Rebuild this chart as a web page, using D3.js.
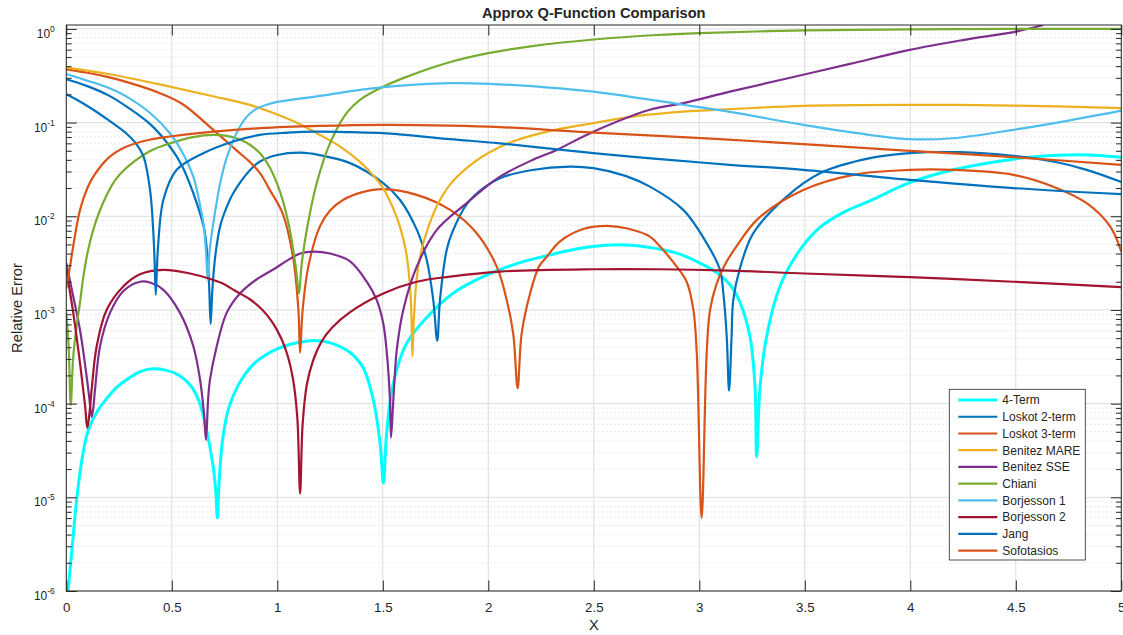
<!DOCTYPE html>
<html>
<head>
<meta charset="utf-8">
<script src="https://cdn.jsdelivr.net/npm/d3@7"></script>
<style>
  body { margin: 0; background: #fff; }
  text { font-family: "Liberation Sans", Arial, Helvetica, sans-serif; fill: #262626; }
</style>
</head>
<body>
<script>
// ---- tick values and labels ----
const xTickValues = [0, 0.5, 1, 1.5, 2, 2.5, 3, 3.5, 4, 4.5, 5];
const xTickLabels = ["0", "0.5", "1", "1.5", "2", "2.5", "3", "3.5", "4", "4.5", "5"];
const yTickExponents = [-6, -5, -4, -3, -2, -1, 0];

// ---- series: [x, relative error] ----
const fourTerm = [
  [0.005, 4e-7], [0.009, 1.0e-6], [0.02, 1.9e-6], [0.03, 3.3e-6], [0.049, 9.4e-6], [0.075, 2.6e-5],
  [0.104, 5.2e-5], [0.15, 8.5e-5], [0.19, 1.12e-4], [0.24, 1.5e-4], [0.286, 1.8e-4], [0.35, 2.2e-4],
  [0.41, 2.36e-4], [0.47, 2.28e-4], [0.536, 2.0e-4], [0.59, 1.55e-4], [0.63, 1.05e-4], [0.665, 5.2e-5],
  [0.695, 2.2e-5], [0.708, 1.2e-5], [0.716, 6e-6], [0.724, 1.4e-5], [0.74, 4e-5], [0.77, 9e-5],
  [0.83, 1.8e-4], [0.9, 2.8e-4], [1.0, 3.85e-4], [1.1, 4.5e-4], [1.187, 4.7e-4], [1.26, 4.4e-4],
  [1.313, 3.9e-4], [1.36, 3.3e-4], [1.408, 2.4e-4], [1.455, 1.1e-4], [1.487, 3.8e-5], [1.503, 1.42e-5],
  [1.518, 4.8e-5], [1.55, 1.66e-4], [1.613, 4.4e-4], [1.739, 9.8e-4], [1.85, 1.6e-3], [1.976, 2.27e-3],
  [2.15, 3.2e-3], [2.292, 3.87e-3], [2.45, 4.6e-3], [2.62, 4.95e-3], [2.75, 4.7e-3], [2.893, 4.04e-3],
  [3.003, 3.16e-3], [3.082, 2.5e-3], [3.15, 1.8e-3], [3.193, 1.2e-3], [3.24, 5.2e-4], [3.264, 1.52e-4],
  [3.272, 2.7e-5], [3.288, 1.52e-4], [3.319, 5.2e-4], [3.382, 1.78e-3], [3.477, 4.38e-3], [3.572, 7.6e-3],
  [3.69, 0.0112], [3.809, 0.0146], [3.997, 0.0228], [4.204, 0.0313], [4.488, 0.0407], [4.7, 0.0447],
  [4.85, 0.045], [5, 0.0425]
];

const loskot2 = [
  [0, 0.29], [0.1, 0.245], [0.2, 0.195], [0.286, 0.148], [0.4, 0.095], [0.491, 0.0555], [0.55, 0.034],
  [0.602, 0.0176], [0.635, 0.0105], [0.655, 7.0e-3], [0.668, 4e-3], [0.677, 1.8e-3], [0.684, 7.1e-4],
  [0.692, 1.6e-3], [0.705, 3.6e-3], [0.729, 7.8e-3], [0.76, 0.0125], [0.791, 0.0176], [0.87, 0.031],
  [0.918, 0.0384], [1.0, 0.045], [1.108, 0.0477], [1.2, 0.045], [1.345, 0.0369], [1.502, 0.0226],
  [1.581, 0.015], [1.661, 7.2e-3], [1.708, 3.43e-3], [1.739, 1.28e-3], [1.758, 4.7e-4], [1.771, 1.28e-3],
  [1.803, 4.4e-3], [1.83, 6.8e-3], [1.898, 0.0135], [1.976, 0.02], [2.055, 0.0255], [2.2, 0.031],
  [2.387, 0.0339], [2.498, 0.0326], [2.65, 0.027], [2.766, 0.0207], [2.924, 0.0117], [3.035, 5.16e-3],
  [3.098, 2.68e-3], [3.114, 1.5e-3], [3.13, 5.2e-4], [3.141, 1.38e-4], [3.153, 5.2e-4], [3.161, 1.28e-3],
  [3.193, 2.8e-3], [3.256, 6.6e-3], [3.414, 0.0162], [3.572, 0.0288], [3.809, 0.0417], [3.997, 0.0471],
  [4.235, 0.0483], [4.488, 0.0441], [4.678, 0.0384], [4.836, 0.0313], [5, 0.0232]
];

const loskot3 = [
  [0, 0.37], [0.1, 0.34], [0.2, 0.305], [0.3, 0.265], [0.444, 0.206], [0.55, 0.158], [0.697, 0.0836],
  [0.8, 0.052], [0.87, 0.038], [0.918, 0.0288], [0.965, 0.019], [1.027, 0.0105], [1.076, 3.5e-3],
  [1.1, 1.0e-3], [1.108, 3.5e-4], [1.12, 1.0e-3], [1.147, 2.9e-3], [1.202, 7.8e-3], [1.25, 0.0115],
  [1.313, 0.015], [1.4, 0.018], [1.502, 0.0195], [1.661, 0.0169], [1.819, 0.0117], [1.94, 6.8e-3],
  [2.04, 2.9e-3], [2.087, 1.28e-3], [2.118, 5.6e-4], [2.139, 1.46e-4], [2.158, 5.6e-4], [2.198, 1.5e-3],
  [2.24, 2.9e-3], [2.277, 3.7e-3], [2.34, 5.4e-3], [2.45, 7.3e-3], [2.561, 7.9e-3], [2.66, 7.4e-3],
  [2.766, 6.07e-3], [2.814, 4.75e-3], [2.893, 2.9e-3], [2.94, 2.0e-3], [2.972, 1.0e-3], [2.988, 3.46e-4],
  [3.011, 6e-6], [3.035, 3.46e-4], [3.051, 1e-3], [3.082, 1.9e-3], [3.12, 3.0e-3], [3.177, 4.8e-3],
  [3.28, 9.5e-3], [3.493, 0.0191], [3.73, 0.0277], [3.997, 0.0313], [4.204, 0.0313], [4.488, 0.0277],
  [4.678, 0.0207], [4.836, 0.0138], [4.947, 7.8e-3], [5, 4.2e-3]
];

const benitezMare = [
  [0, 0.386], [0.2, 0.33], [0.491, 0.242], [0.7, 0.19], [0.87, 0.1545], [0.918, 0.1425], [1.0, 0.122],
  [1.1, 0.098], [1.187, 0.077], [1.3, 0.055], [1.392, 0.038], [1.45, 0.028], [1.502, 0.02], [1.55, 0.012],
  [1.581, 7.8e-3], [1.61, 4.2e-3], [1.627, 2.0e-3], [1.636, 8.6e-4], [1.64, 3.2e-4], [1.646, 7e-4],
  [1.661, 2.2e-3], [1.684, 4.4e-3], [1.71, 7e-3], [1.755, 0.0127], [1.82, 0.022], [1.9, 0.033],
  [1.976, 0.044], [2.055, 0.055], [2.135, 0.065], [2.3, 0.082], [2.498, 0.0986], [2.7, 0.117],
  [2.924, 0.131], [3.145, 0.139], [3.493, 0.151], [3.997, 0.1545], [4.488, 0.152], [5, 0.1425]
];

const benitezSse = [
  [0, 3.16e-3], [0.033, 1.39e-3], [0.065, 6.1e-4], [0.097, 1.9e-4], [0.11, 1.1e-4], [0.12, 7.2e-5],
  [0.128, 9e-5], [0.136, 1.4e-4], [0.16, 4.1e-4], [0.207, 9.3e-4], [0.272, 1.6e-3], [0.349, 2.0e-3],
  [0.4, 1.95e-3], [0.46, 1.64e-3], [0.539, 9.3e-4], [0.602, 4.1e-4], [0.634, 1.8e-4], [0.652, 8e-5],
  [0.662, 4.1e-5], [0.672, 1.1e-4], [0.681, 1.8e-4], [0.713, 4.1e-4], [0.76, 9.3e-4], [0.823, 1.5e-3],
  [0.9, 2.1e-3], [0.981, 2.7e-3], [1.05, 3.4e-3], [1.108, 4.0e-3], [1.171, 4.2e-3], [1.25, 4.0e-3],
  [1.345, 3.3e-3], [1.424, 2.0e-3], [1.471, 1.28e-3], [1.502, 7.2e-4], [1.518, 3.7e-4], [1.534, 1.1e-4],
  [1.539, 4.35e-5], [1.55, 1.1e-4], [1.566, 3.7e-4], [1.597, 1.0e-3], [1.661, 2.9e-3], [1.757, 7.2e-3],
  [1.899, 0.0139], [1.976, 0.0195], [2.055, 0.0265], [2.2, 0.039], [2.324, 0.0511], [2.498, 0.08],
  [2.766, 0.137], [2.924, 0.161], [3.145, 0.214], [3.4, 0.29], [3.714, 0.423], [3.997, 0.597],
  [4.25, 0.76], [4.501, 0.936], [4.63, 1.1]
];

const chiani = [
  [0, 9.3e-4], [0.011, 4.2e-4], [0.021, 9.7e-5], [0.033, 3.2e-4], [0.05, 7e-4], [0.065, 1.2e-3],
  [0.08, 2.2e-3], [0.1, 4e-3], [0.128, 7.2e-3], [0.175, 0.014], [0.23, 0.024], [0.286, 0.033],
  [0.4, 0.05], [0.491, 0.06], [0.6, 0.07], [0.697, 0.0739], [0.76, 0.072], [0.823, 0.066], [0.87, 0.058],
  [0.918, 0.047], [0.965, 0.033], [1.0, 0.022], [1.027, 0.0145], [1.055, 8e-3], [1.074, 4.6e-3],
  [1.09, 2.6e-3], [1.103, 1.5e-3], [1.115, 3e-3], [1.139, 7e-3], [1.187, 0.0226], [1.25, 0.0603],
  [1.329, 0.127], [1.392, 0.175], [1.5, 0.24], [1.6, 0.3], [1.8, 0.43], [2.0, 0.55], [2.2, 0.65],
  [2.5, 0.77], [2.8, 0.86], [3.0, 0.9], [3.5, 0.965], [4.0, 0.99], [4.5, 1.0], [5, 1.0]
];

const borjesson1 = [
  [0, 0.33], [0.1, 0.28], [0.2, 0.235], [0.286, 0.189], [0.4, 0.125], [0.491, 0.077], [0.55, 0.048],
  [0.602, 0.0265], [0.63, 0.0145], [0.652, 7.8e-3], [0.662, 4.2e-3], [0.67, 2.1e-3], [0.678, 4e-3],
  [0.697, 8.5e-3], [0.73, 0.023], [0.76, 0.042], [0.81, 0.08], [0.855, 0.115], [0.9, 0.14],
  [0.95, 0.155], [1.0, 0.166], [1.187, 0.19], [1.4, 0.225], [1.6, 0.25], [1.819, 0.263], [2.008, 0.259],
  [2.25, 0.24], [2.498, 0.214], [2.924, 0.155], [3.145, 0.13], [3.493, 0.0945], [3.75, 0.077],
  [3.997, 0.0665], [4.2, 0.068], [4.488, 0.0836], [4.75, 0.105], [5, 0.134]
];

const borjesson2 = [
  [0, 2.7e-3], [0.033, 9.3e-4], [0.065, 2.7e-4], [0.089, 9.5e-5], [0.0995, 5.5e-5], [0.11, 8e-5],
  [0.12, 1.4e-4], [0.144, 4.1e-4], [0.191, 1.0e-3], [0.27, 1.78e-3], [0.349, 2.4e-3], [0.46, 2.68e-3],
  [0.586, 2.45e-3], [0.68, 2.15e-3], [0.744, 1.9e-3], [0.8, 1.6e-3], [0.87, 1.3e-3], [0.93, 1.0e-3],
  [0.98, 7.2e-4], [1.02, 4.9e-4], [1.05, 3.2e-4], [1.075, 1.8e-4], [1.095, 7e-5], [1.108, 1.1e-5],
  [1.12, 6e-5], [1.14, 1.6e-4], [1.17, 2.9e-4], [1.21, 4.6e-4], [1.26, 6.5e-4], [1.345, 9.5e-4],
  [1.502, 1.5e-3], [1.661, 2.0e-3], [1.819, 2.27e-3], [2.055, 2.57e-3], [2.498, 2.72e-3], [2.8, 2.72e-3],
  [3.145, 2.63e-3], [3.5, 2.45e-3], [3.997, 2.24e-3], [4.488, 2.0e-3], [5, 1.75e-3]
];

const jang = [
  [0, 0.201], [0.05, 0.175], [0.128, 0.137], [0.2, 0.106], [0.286, 0.076], [0.33, 0.06], [0.365, 0.044],
  [0.397, 0.019], [0.412, 7e-3], [0.418, 3.5e-3], [0.424, 1.45e-3], [0.43, 3e-3], [0.436, 5.2e-3],
  [0.46, 0.015], [0.523, 0.0313], [0.649, 0.0471], [0.791, 0.0628], [0.918, 0.0739], [1.05, 0.078],
  [1.187, 0.08], [1.35, 0.079], [1.502, 0.077], [1.819, 0.0665], [2.055, 0.06], [2.498, 0.0471],
  [2.8, 0.041], [3.145, 0.0354], [3.493, 0.0313], [3.997, 0.0245], [4.488, 0.02], [5, 0.0172]
];

const sofotasios = [
  [0, 1.7e-3], [0.0175, 2.9e-3], [0.04, 6e-3], [0.065, 0.0117], [0.1, 0.02], [0.128, 0.0265],
  [0.2, 0.042], [0.286, 0.0555], [0.4, 0.066], [0.491, 0.071], [0.697, 0.08], [0.918, 0.0871],
  [1.2, 0.092], [1.502, 0.0945], [1.819, 0.0929], [2.055, 0.0895], [2.498, 0.0782], [3.098, 0.0665],
  [3.493, 0.0588], [3.997, 0.0499], [4.488, 0.0427], [5, 0.0354]
];

const seriesNames = ["4-Term", "Loskot 2-term", "Loskot 3-term", "Benitez MARE", "Benitez SSE",
                     "Chiani", "Borjesson 1", "Borjesson 2", "Jang", "Sofotasios"];
const seriesData = [fourTerm, loskot2, loskot3, benitezMare, benitezSse,
                    chiani, borjesson1, borjesson2, jang, sofotasios];
const seriesColors = ["#00FFFF", "#0072BD", "#D95319", "#EDB120", "#7E2F8E",
                      "#77AC30", "#4DBEEE", "#A2142F", "#0072BD", "#D95319"];
const seriesWidths = [3, 2.2, 2.2, 2.2, 2.2, 2.2, 2.2, 2.2, 2.2, 2.2];

// ---- layout ----
const W = 1123, H = 635;
const box = { left: 66.3, right: 1121.3, top: 25, bottom: 591 };
const axisColor = "#262626";

const x = d3.scaleLinear().domain([0, 5]).range([box.left, box.right]);
const y = d3.scaleLog().domain([1e-6, 1.1]).range([box.bottom, box.top]);

const svg = d3.select("body").append("svg").attr("width", W).attr("height", H);
svg.append("rect").attr("width", W).attr("height", H).attr("fill", "#fff");

// grid
const majorY = yTickExponents.map(e => Math.pow(10, e));
const minorY = [];
yTickExponents.forEach(e => {
  for (let k = 2; k <= 9; k++) {
    const v = k * Math.pow(10, e);
    if (v <= 1.1) minorY.push(v);
  }
});

const grid = svg.append("g");
grid.selectAll(".minor").data(minorY).join("line")
  .attr("x1", box.left).attr("x2", box.right)
  .attr("y1", d => y(d)).attr("y2", d => y(d))
  .attr("stroke", "#c8c8c8").attr("stroke-width", 0.8).attr("stroke-dasharray", "1 3");
grid.selectAll(".majorY").data(majorY).join("line")
  .attr("x1", box.left).attr("x2", box.right)
  .attr("y1", d => y(d)).attr("y2", d => y(d))
  .attr("stroke", "#dcdcdc").attr("stroke-width", 1);
grid.selectAll(".majorX").data(xTickValues).join("line")
  .attr("y1", box.top).attr("y2", box.bottom)
  .attr("x1", d => x(d)).attr("x2", d => x(d))
  .attr("stroke", "#dcdcdc").attr("stroke-width", 1);

// curves
svg.append("clipPath").attr("id", "plotClip").append("rect")
  .attr("x", box.left).attr("y", box.top)
  .attr("width", box.right - box.left).attr("height", box.bottom - box.top);

const line = d3.line().x(d => x(d[0])).y(d => y(d[1])).curve(d3.curveCatmullRom.alpha(0.5));
const curves = svg.append("g").attr("clip-path", "url(#plotClip)");
seriesData.forEach((data, i) => {
  curves.append("path").datum(data)
    .attr("d", line)
    .attr("fill", "none")
    .attr("stroke", seriesColors[i])
    .attr("stroke-width", seriesWidths[i])
    .attr("stroke-linejoin", "round");
});

// axes (inward ticks on all four sides)
const tickLen = 10.5, minorLen = 5.3;
const styleAxis = g => {
  g.select(".domain").remove();
  g.selectAll(".tick line").attr("stroke", axisColor).attr("stroke-width", 1);
};

svg.append("g").attr("transform", `translate(0,${box.bottom})`)
  .call(d3.axisBottom(x).tickValues(xTickValues).tickFormat((d, i) => xTickLabels[i])
    .tickSizeInner(-tickLen).tickSizeOuter(0).tickPadding(11.5))
  .call(styleAxis)
  .call(g => g.selectAll(".tick text").attr("font-size", 13.3).attr("fill", axisColor)
    .attr("font-family", "Liberation Sans, Arial, sans-serif"));

svg.append("g").attr("transform", `translate(0,${box.top})`)
  .call(d3.axisTop(x).tickValues(xTickValues).tickFormat("").tickSizeInner(-tickLen).tickSizeOuter(0))
  .call(styleAxis);

svg.append("g").attr("transform", `translate(${box.left},0)`)
  .call(d3.axisLeft(y).tickValues(minorY).tickFormat("").tickSizeInner(-minorLen).tickSizeOuter(0))
  .call(styleAxis);
svg.append("g").attr("transform", `translate(${box.right},0)`)
  .call(d3.axisRight(y).tickValues(minorY).tickFormat("").tickSizeInner(-minorLen).tickSizeOuter(0))
  .call(styleAxis);
svg.append("g").attr("transform", `translate(${box.right},0)`)
  .call(d3.axisRight(y).tickValues(majorY).tickFormat("").tickSizeInner(-tickLen).tickSizeOuter(0))
  .call(styleAxis);

const yAxis = svg.append("g").attr("transform", `translate(${box.left},0)`)
  .call(d3.axisLeft(y).tickValues(majorY).tickFormat("").tickSizeInner(-tickLen).tickSizeOuter(0))
  .call(styleAxis);

// power-of-ten labels
yAxis.selectAll(".tick").each(function(d, i) {
  const t = d3.select(this).append("text")
    .attr("x", -11.5).attr("y", 8.5)
    .attr("text-anchor", "end")
    .attr("fill", axisColor)
    .attr("font-family", "Liberation Sans, Arial, sans-serif");
  t.append("tspan").attr("font-size", 12).text("10");
  t.append("tspan").attr("font-size", 8.5).attr("dy", -6).text(String(yTickExponents[i]));
});

// axes box
svg.append("rect")
  .attr("x", box.left).attr("y", box.top)
  .attr("width", box.right - box.left).attr("height", box.bottom - box.top)
  .attr("fill", "none").attr("stroke", axisColor).attr("stroke-width", 1);

// title and axis labels
svg.append("text").attr("x", (box.left + box.right) / 2).attr("y", 18)
  .attr("text-anchor", "middle").attr("font-size", 14.7).attr("font-weight", "bold")
  .attr("fill", "#000").text("Approx Q-Function Comparison");
svg.append("text").attr("x", (box.left + box.right) / 2).attr("y", 630)
  .attr("text-anchor", "middle").attr("font-size", 14.7).text("X");
svg.append("text").attr("transform", `translate(22,${(box.top + box.bottom) / 2}) rotate(-90)`)
  .attr("text-anchor", "middle").attr("font-size", 14.7).text("Relative Error");

// legend
const leg = { left: 949.3, top: 389.3, right: 1085.3, bottom: 560, firstRow: 400, rowStep: 16.74 };
const legend = svg.append("g");
legend.append("rect")
  .attr("x", leg.left).attr("y", leg.top)
  .attr("width", leg.right - leg.left).attr("height", leg.bottom - leg.top)
  .attr("fill", "#fff").attr("stroke", axisColor).attr("stroke-width", 0.8);
seriesNames.forEach((name, i) => {
  const cy = leg.firstRow + i * leg.rowStep;
  legend.append("line")
    .attr("x1", 958.3).attr("x2", 997.3).attr("y1", cy).attr("y2", cy)
    .attr("stroke", seriesColors[i]).attr("stroke-width", seriesWidths[i]);
  legend.append("text").attr("x", 1002.3).attr("y", cy + 4.3)
    .attr("font-size", 12).attr("fill", "#000").text(name);
});
</script>
</body>
</html>
